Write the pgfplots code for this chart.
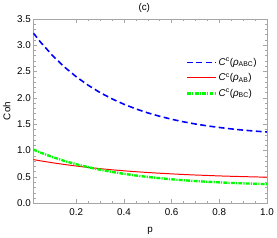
\documentclass[border=0pt]{standalone}
\usepackage{fontspec}
\setmainfont{Liberation Sans}
\usepackage{pgfplots}
\pgfplotsset{compat=1.18}
\begin{document}
\fontsize{10}{12}\selectfont
\begin{tikzpicture}
\begin{axis}[
  scale only axis, width=238pt, height=188pt,
  xmin=0.02, xmax=1.0, ymin=0, ymax=3.5,
  xtick={0.2,0.4,0.6,0.8,1.0},
  ytick={0,0.5,1,1.5,2,2.5,3,3.5},
  xticklabels={0.2,0.4,0.6,0.8,1.0},
  yticklabels={0.0,0.5,1.0,1.5,2.0,2.5,3.0,3.5},
  minor x tick num=3, minor y tick num=4,
  tick align=inside,
  major tick length=4pt, minor tick length=2.2pt,
  every tick/.style={gray!70, line width=0.5pt},
  axis line style={gray!70, line width=0.6pt},
  tick label style={font=\fontsize{10}{12}\selectfont},
  xticklabel style={yshift=-2pt},
  yticklabel style={xshift=1pt},
  /pgf/number format/assume math mode=true,
  xlabel={p}, ylabel={Coh},
  xlabel style={yshift=-5pt},
  ylabel style={yshift=0pt},
  title={(c)}, title style={yshift=-3pt, xshift=-6pt},
  legend style={at={(0.64,0.81)}, anchor=north west, draw=none, fill=none,
    font=\fontsize{10}{12}\selectfont, row sep=3pt},
  legend cell align=left,
  legend image code/.code={\draw[#1] (0pt,0pt) -- (29pt,0pt);},
]
\addplot[blue, line width=1.6pt, dash pattern=on 6pt off 3.5pt] coordinates {
(0.02,3.230) (0.05,3.059) (0.10,2.806) (0.15,2.588) (0.20,2.401) (0.25,2.240)
(0.30,2.101) (0.35,1.982) (0.40,1.880) (0.45,1.792) (0.50,1.716) (0.55,1.651)
(0.60,1.595) (0.65,1.546) (0.70,1.505) (0.75,1.469) (0.80,1.439) (0.85,1.412)
(0.90,1.389) (0.95,1.370) (1.00,1.353)};
\addlegendentry{\textit{C}\textsuperscript{c}(\textit{ρ}\textsubscript{ABC})}
\addplot[red, line width=1.0pt] coordinates {
(0.02,0.830) (0.05,0.806) (0.10,0.770) (0.15,0.737) (0.20,0.708) (0.25,0.681)
(0.30,0.658) (0.35,0.636) (0.40,0.617) (0.45,0.600) (0.50,0.585) (0.55,0.571)
(0.60,0.559) (0.65,0.547) (0.70,0.537) (0.75,0.529) (0.80,0.520) (0.85,0.513)
(0.90,0.507) (0.95,0.501) (1.00,0.496)};
\addlegendentry{\textit{C}\textsuperscript{c}(\textit{ρ}\textsubscript{AB})}
\addplot[green, line width=2.4pt, dash pattern=on 4pt off 1.2pt on 1.2pt off 1.2pt] coordinates {
(0.02,1.020) (0.05,0.963) (0.10,0.879) (0.15,0.805) (0.20,0.741) (0.25,0.686)
(0.30,0.638) (0.35,0.596) (0.40,0.560) (0.45,0.528) (0.50,0.501) (0.55,0.477)
(0.60,0.456) (0.65,0.438) (0.70,0.423) (0.75,0.409) (0.80,0.398) (0.85,0.387)
(0.90,0.379) (0.95,0.371) (1.00,0.364)};
\addlegendentry{\textit{C}\textsuperscript{c}(\textit{ρ}\textsubscript{BC})}
\end{axis}
\end{tikzpicture}
\end{document}
